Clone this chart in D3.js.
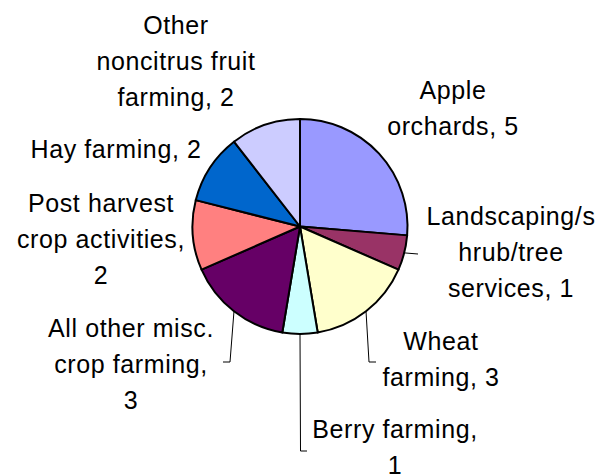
<!DOCTYPE html>
<html>
<head>
<meta charset="utf-8">
<script src="https://cdn.jsdelivr.net/npm/d3@7"></script>
<style>
  body { margin: 0; background: #fff; }
  svg { display: block; }
  text { font-family: "Liberation Sans", Arial, sans-serif; font-size: 25px; letter-spacing: 0.6px; fill: #000; }
</style>
</head>
<body>
<svg id="chart"></svg>
<script>
const categories = ["Apple orchards", "Landscaping/shrub/tree services", "Wheat farming",
  "Berry farming", "All other misc. crop farming", "Post harvest crop activities",
  "Hay farming", "Other noncitrus fruit farming"];
const values = [5, 1, 3, 1, 3, 2, 2, 2];
const colors = ["#9999ff", "#993366", "#ffffcc", "#ccffff", "#660066", "#ff8080", "#0066cc", "#ccccff"];

// label placement: text centre x, first baseline, where to break lines, leader line bends
const labelLayout = [
  { x: 453, y: 99, breaks: [6], leader: null },
  { x: 511, y: 225, breaks: [13, 23], leader: [[418, 254]] },
  { x: 441, y: 350, breaks: [6], leader: [[369, 362], [376, 362]] },
  { x: 395, y: 438, breaks: [15], leader: [[300.5, 451], [307, 451]] },
  { x: 131, y: 337, breaks: [16, 30], leader: [[230, 362], [223, 362]] },
  { x: 101, y: 212, breaks: [13, 30], leader: null },
  { x: 116, y: 158, breaks: [], leader: null },
  { x: 176, y: 34, breaks: [6, 22], leader: null }
];

const width = 602, height = 474;
const cx = 300, cy = 226.5, r = 107.5;
const lineH = 36;

const svg = d3.select("#chart").attr("width", width).attr("height", height);

const pie = d3.pie().sort(null).value(d => d)(values);
const arc = d3.arc().innerRadius(0).outerRadius(r);
const edge = d3.arc().innerRadius(r).outerRadius(r);

const g = svg.append("g").attr("transform", `translate(${cx},${cy})`);

g.selectAll("path.slice")
  .data(pie)
  .enter()
  .append("path")
  .attr("class", "slice")
  .attr("d", arc)
  .attr("fill", (d, i) => colors[i])
  .attr("stroke", "#000")
  .attr("stroke-width", 2)
  .attr("stroke-linejoin", "round");

// leader lines
pie.forEach((d, i) => {
  const lay = labelLayout[i];
  if (!lay.leader) return;
  const p = edge.centroid(d);
  const pts = [[p[0] + cx, p[1] + cy]].concat(lay.leader);
  svg.append("path")
    .attr("d", d3.line()(pts))
    .attr("fill", "none")
    .attr("stroke", "#000")
    .attr("stroke-width", 1);
});

// labels
categories.forEach((c, i) => {
  const full = c + ", " + values[i];
  const lay = labelLayout[i];
  const cuts = [0].concat(lay.breaks, [full.length]);
  const lines = [];
  for (let k = 0; k < cuts.length - 1; k++) lines.push(full.slice(cuts[k], cuts[k + 1]).trim());
  const t = svg.append("text").attr("text-anchor", "middle");
  lines.forEach((ln, k) => {
    t.append("tspan").attr("x", lay.x).attr("y", lay.y + k * lineH).text(ln);
  });
});
</script>
</body>
</html>
